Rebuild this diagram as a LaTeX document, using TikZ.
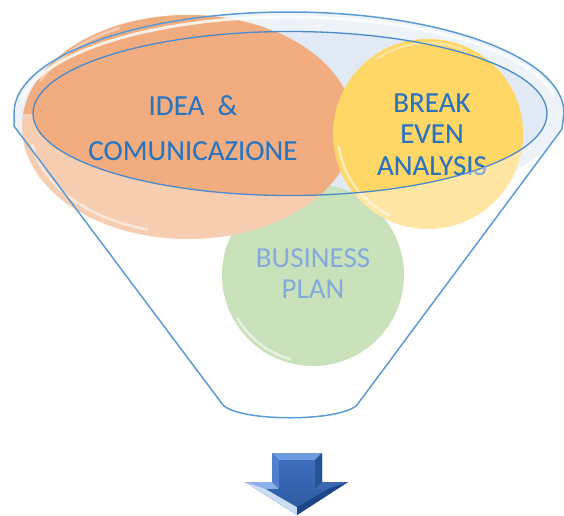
\documentclass[tikz,border=0pt]{standalone}
\usepackage{fontspec}
\setmainfont{Carlito}
\definecolor{orD}{HTML}{F1AD80}
\definecolor{orL}{HTML}{F7CEB2}
\definecolor{yeD}{HTML}{FED767}
\definecolor{yeL}{HTML}{FFE6A3}
\definecolor{grL}{HTML}{C9E2BB}
\definecolor{rimA}{HTML}{EEF3FA}
\definecolor{rimB}{HTML}{E2EAF5}
\definecolor{lineB}{HTML}{5B9BD5}
\definecolor{lineI}{HTML}{4A89CB}
\definecolor{txtD}{HTML}{2E73B6}
\definecolor{txtL}{HTML}{84A9DA}
\definecolor{arA}{HTML}{2D5CA3}
\definecolor{arB}{HTML}{3D6EBC}
\definecolor{arTop}{RGB}{111,155,224}
\definecolor{arLeft}{RGB}{80,128,205}
\definecolor{arRight}{RGB}{40,82,150}
\definecolor{arWingL}{RGB}{140,176,236}
\definecolor{arWingR}{RGB}{60,104,178}
\definecolor{arLow}{RGB}{205,221,246}
\definecolor{arLowR}{RGB}{30,70,135}
\begin{document}
\begin{tikzpicture}[x=1pt,y=-1pt,
  lbl/.style={anchor=base,inner sep=0pt,font=\fontsize{29}{35}\selectfont},
  glare/.style={white,line width=2.5pt,opacity=0.55,line cap=round},
  funnel/.style={draw=lineB,line width=1.5pt,line join=round}]
\useasboundingbox (0,0) rectangle (564,515);
% rim fills
\fill[rimA] (289,113) ellipse [x radius=275,y radius=101];
\fill[rimB] (290,113.5) ellipse [x radius=257,y radius=82];
% circles, light (front of funnel)
\fill[grL] (313,275) circle [radius=91];
\fill[orL] (188,127) ellipse [x radius=166,y radius=112];
\fill[yeL] (428,134) circle [radius=95];
% dark parts inside the rim
\begin{scope}
\clip (290,113.5) ellipse [x radius=257,y radius=82];
\fill[orD] (188,127) ellipse [x radius=166,y radius=112];
\fill[yeD] (428,134) circle [radius=95];
\end{scope}
\begin{scope}
\clip (0,0) rectangle (564,113.5);
\fill[orD] (188,127) ellipse [x radius=166,y radius=112];
\fill[yeD] (428,134) circle [radius=95];
\end{scope}
% glares
\draw[glare] (188,127) ++(105:158 and 106) arc[start angle=105,end angle=170,x radius=158,y radius=106];
\draw[glare,opacity=0.4] (188,127) ++(205:163 and 109) arc[start angle=205,end angle=245,x radius=163,y radius=109];
\draw[glare] (428,134) ++(115:90) arc[start angle=115,end angle=172,radius=90];
\draw[glare,opacity=0.35] (428,134) ++(235:91) arc[start angle=235,end angle=295,radius=91];
\draw[glare] (313,275) ++(105:87) arc[start angle=105,end angle=150,radius=87];
% white band inside outer rim
\draw[white,line width=3pt,opacity=0.8] (289,113) ++(190:270 and 96) arc[start angle=190,end angle=350,x radius=270,y radius=96];
% outlines
\draw[lineI,line width=1.3pt] (290,113.5) ellipse [x radius=257,y radius=82];
\coordinate (L) at (14,113);
\coordinate (Lb) at (14,126);
\coordinate (Rb) at (562,129);
\coordinate (BR) at (357,405);
\coordinate (BL) at (223,405);
\draw[funnel] (Lb) -- (L) arc[start angle=180,end angle=360,x radius=275,y radius=101] -- (Rb) -- (BR) .. controls (340,422) and (240,422) .. (BL) -- cycle;
% text, light everywhere
\node[lbl,text=txtL] (t1) at (193,115) {IDEA~~\&};
\node[lbl,text=txtL] (t2) at (193,160) {COMUNICAZIONE};
\node[lbl,text=txtL] (t3) at (432,112) {BREAK};
\node[lbl,text=txtL] (t4) at (432,143) {EVEN};
\node[lbl,text=txtL] (t5) at (432,175) {ANALYSIS};
\node[lbl,text=txtL] (t6) at (313,267) {BUSINESS};
\node[lbl,text=txtL] (t7) at (313,298) {PLAN};
% dark text inside the rim
\begin{scope}
\clip (290,113.5) ellipse [x radius=256,y radius=81];
\node[lbl,text=txtD] at (193,115) {IDEA~~\&};
\node[lbl,text=txtD] at (193,160) {COMUNICAZIONE};
\node[lbl,text=txtD] at (432,112) {BREAK};
\node[lbl,text=txtD] at (432,143) {EVEN};
\node[lbl,text=txtD] at (432,175) {ANALYSIS};
\end{scope}
% arrow
\fill[arA] (272,453) -- (322,453) -- (322,482) -- (348,482) -- (297,515) -- (245,482) -- (272,482) -- cycle;
\fill[arTop] (272,453) -- (322,453) -- (315,460) -- (279,460) -- cycle;
\fill[arLeft] (272,453) -- (279,460) -- (279,489) -- (272,482) -- cycle;
\fill[arRight] (322,453) -- (315,460) -- (315,489) -- (322,482) -- cycle;
\fill[arWingL] (245,482) -- (272,482) -- (279,489) -- (266,489) -- cycle;
\fill[arWingR] (322,482) -- (348,482) -- (328,489) -- (315,489) -- cycle;
\fill[arLow] (245,482) -- (266,489) -- (297,507) -- (297,515) -- cycle;
\fill[arLowR] (348,482) -- (328,489) -- (297,507) -- (297,515) -- cycle;
\shade[top color=arB,bottom color=arA] (279,460) -- (315,460) -- (315,489) -- (328,489) -- (297,507) -- (266,489) -- (279,489) -- cycle;
\end{tikzpicture}
\end{document}
